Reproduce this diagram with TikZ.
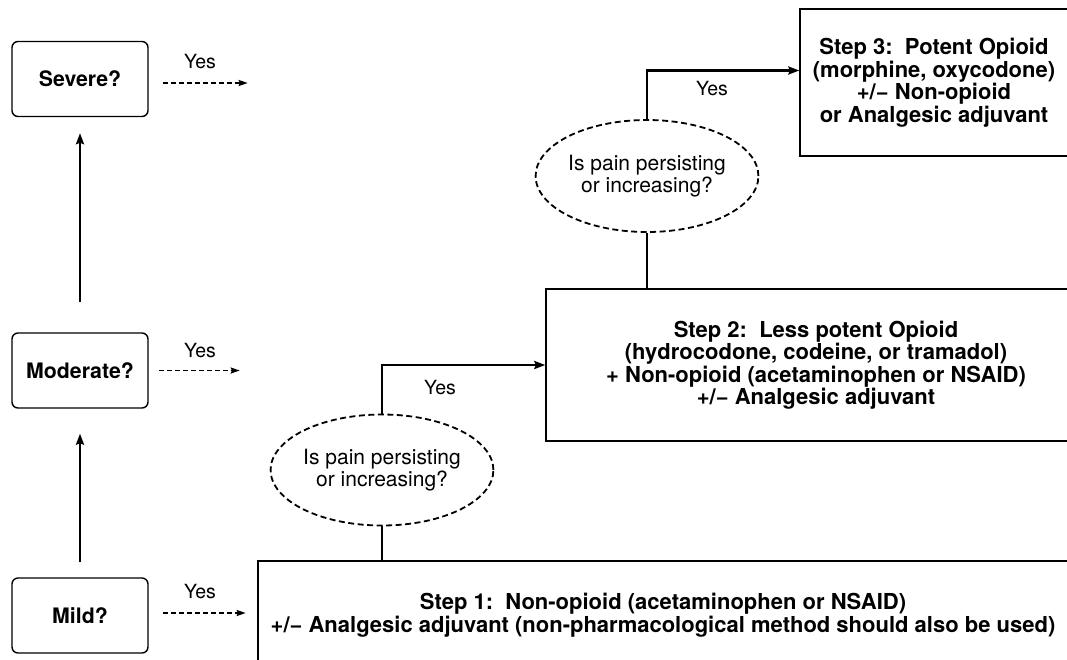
\documentclass[tikz,border=0pt]{standalone}
\usepackage{fontspec}
\setmainfont{TeX Gyre Heros}
\usetikzlibrary{arrows.meta,shapes.geometric}

\begin{document}
\begin{tikzpicture}[x=1pt,y=-1pt,
    question/.style={draw,rounded corners=6pt,line width=1.4pt,
        minimum width=136pt,minimum height=75pt,
        font=\fontsize{21.3}{22.3}\selectfont\bfseries},
    stepbox/.style={draw,line width=1.4pt,align=center,
        font=\fontsize{22}{22.5}\selectfont\bfseries},
    ask/.style={ellipse,draw,dash pattern=on 6pt off 3.5pt,line width=1.8pt,
        inner sep=0pt,align=center,font=\fontsize{21}{22}\selectfont},
    yes/.style={font=\fontsize{19.5}{20}\selectfont},
    go/.style={-{Stealth[length=11pt,width=8pt,inset=1.5pt]},line width=2.2pt},
    dashgo/.style={-{Stealth[length=9pt,width=6pt,inset=1.2pt]},
        line width=1.8pt,dash pattern=on 5pt off 3pt}]

    \useasboundingbox (0,0) rectangle (1067,659);
    \clip (0,0) rectangle (1067,659);

    % severity questions on the left
    \node[question] (severe) at (80,79) {Severe?};
    \node[question] (moderate) at (80,370.5) {Moderate?};
    \node[question] (mild) at (80,615.5) {Mild?};
    \draw[go,shorten <=30pt,shorten >=16pt] (moderate) -- (severe);
    \draw[go,shorten <=15pt,shorten >=25pt] (mild) -- (moderate);

    % yes arrows
    \node[yes] (yes3) at (200,62) {Yes};
    \node[yes] (yes2) at (200,351) {Yes};
    \node[yes] (yes1) at (200,592) {Yes};
    \draw[dashgo] ([xshift=14pt,yshift=-4pt]severe.east) -- ++(85,0);
    \draw[dashgo] ([xshift=10pt]moderate.east) -- ++(81,0);
    \draw[dashgo] ([xshift=14pt,yshift=2.5pt]mild.east) -- ++(83,0);

    % the three steps
    \node[stepbox,minimum width=268pt,minimum height=147pt] (step3) at (934,82.5)
        {Step 3:~~Potent Opioid\\(morphine, oxycodone)\\+/− Non-opioid\\or Analgesic adjuvant};
    \node[stepbox,minimum width=540pt,minimum height=152pt] (step2) at (816,365)
        {Step 2:~~Less potent Opioid\\(hydrocodone, codeine, or tramadol)\\+ Non-opioid (acetaminophen or NSAID)\\+/− Analgesic adjuvant};
    \node[stepbox,minimum width=810pt,minimum height=108pt] (step1) at (663,615)
        {Step 1:~~Non-opioid (acetaminophen or NSAID)\\+/− Analgesic adjuvant (non-pharmacological method should also be used)};

    % persisting pain checks
    \node[ask,minimum width=197pt,minimum height=111pt] (ask1) at (382,470)
        {Is pain persisting\\or increasing?};
    \node[ask,minimum width=192pt,minimum height=112pt] (ask2) at (647,176)
        {Is pain persisting\\or increasing?};

    \draw[line width=2.2pt] (ask1.south) -- (ask1.south |- step1.north);
    \draw[go] (ask1.north) |- (step2.west);
    \node[yes] (yes12) at (440,388) {Yes};
    \draw[line width=2.2pt] (ask2.south) -- (ask2.south |- step2.north);
    \draw[go] (ask2.north) |- ([yshift=12pt]step3.west);
    \node[yes] (yes23) at (712,89) {Yes};
\end{tikzpicture}
\end{document}
